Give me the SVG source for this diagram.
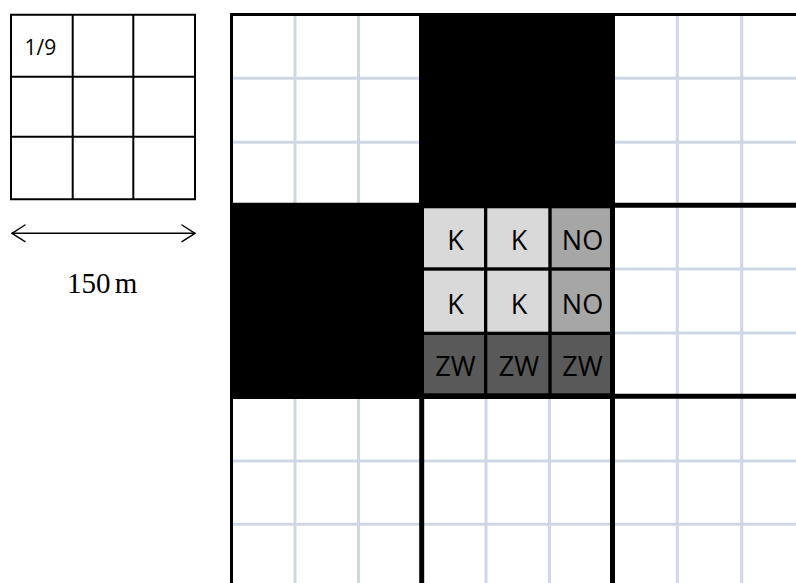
<svg xmlns="http://www.w3.org/2000/svg" width="796" height="583" viewBox="0 0 796 583">
  <defs>
    <style>
      .blk { stroke: #000; fill: none; }
      .light { stroke: #CFD7E5; stroke-width: 3; fill: none; }
      .thick { stroke: #000; stroke-width: 5; fill: none; }
      .lbl { font-family: "Open Sans", "Noto Sans", sans-serif; font-size: 27px; fill: #000; text-anchor: middle; }
      .k { fill: #D9D9D9; }
      .no { fill: #A6A6A6; }
      .zw { fill: #595959; }
    </style>
  </defs>
  <rect x="0" y="0" width="796" height="583" fill="#fff"/>

  <g id="legend-grid">
    <g class="blk" stroke-width="2">
      <path d="M11 14.7V199.3M72.7 14.7V199.3M133.3 14.7V199.3M195 14.7V199.3"/>
      <path d="M10 14.7H196M10 76.7H196M10 136.7H196M10 199.3H196"/>
    </g>
    <text x="24.5" y="54.5" font-family="'Open Sans', 'Noto Sans', sans-serif" font-size="21" fill="#000">1/9</text>
  </g>

  <g id="scale">
    <g class="blk" stroke-width="1.4" stroke-linecap="round" stroke-linejoin="round">
      <path d="M12 233.3H195"/>
      <path d="M25 225L12 233.3L25 241.7"/>
      <path d="M182 225L195 233.3L182 241.7"/>
    </g>
    <text x="67" y="292.5" font-family="'Liberation Serif', 'Times New Roman', serif" font-size="29" word-spacing="-3" fill="#000">150 m</text>
  </g>

  <g id="map-grid">
    <g id="light-lines" class="light">
      <path d="M295 15V583M358.5 15V583M486 15V583M549.5 15V583M677.3 15V583M741.7 15V583"/>
      <path d="M232 78.3H796M232 142.3H796M232 269H796M232 333H796M232 461H796M232 524.3H796"/>
    </g>
    <g id="black-blocks" fill="#000">
      <rect x="419" y="13" width="196" height="195"/>
      <rect x="230" y="203" width="194" height="196"/>
    </g>
    <g id="block-lines" class="thick">
      <path d="M231.5 13V583" stroke-width="3"/>
      <path d="M230 14.6H796" stroke-width="3"/>
      <path d="M421.7 13V583"/>
      <path d="M612.5 13V583"/>
      <path d="M230 205.3H796"/>
      <path d="M230 396.3H796"/>
    </g>
  </g>

  <g id="center-block">
    <rect x="419" y="203" width="196" height="196" fill="#000"/>
    <g id="cell-r1c1"><rect class="k" x="424" y="208.3" width="60" height="59"/><text class="lbl" x="455.5" y="250">K</text></g>
    <g id="cell-r1c2"><rect class="k" x="487.3" y="208.3" width="61" height="59"/><text class="lbl" x="519" y="250">K</text></g>
    <g id="cell-r1c3"><rect class="no" x="551.7" y="208.3" width="58.3" height="59"/><text class="lbl" x="582.5" y="250">NO</text></g>
    <g id="cell-r2c1"><rect class="k" x="424" y="270.7" width="60" height="61"/><text class="lbl" x="455.5" y="313.5">K</text></g>
    <g id="cell-r2c2"><rect class="k" x="487.3" y="270.7" width="61" height="61"/><text class="lbl" x="519" y="313.5">K</text></g>
    <g id="cell-r2c3"><rect class="no" x="551.7" y="270.7" width="58.3" height="61"/><text class="lbl" x="582.5" y="313.5">NO</text></g>
    <g id="cell-r3c1"><rect class="zw" x="424" y="335" width="60" height="58.3"/><text class="lbl" x="455.5" y="376">ZW</text></g>
    <g id="cell-r3c2"><rect class="zw" x="487.3" y="335" width="61" height="58.3"/><text class="lbl" x="519" y="376">ZW</text></g>
    <g id="cell-r3c3"><rect class="zw" x="551.7" y="335" width="58.3" height="58.3"/><text class="lbl" x="582.5" y="376">ZW</text></g>
  </g>
</svg>
